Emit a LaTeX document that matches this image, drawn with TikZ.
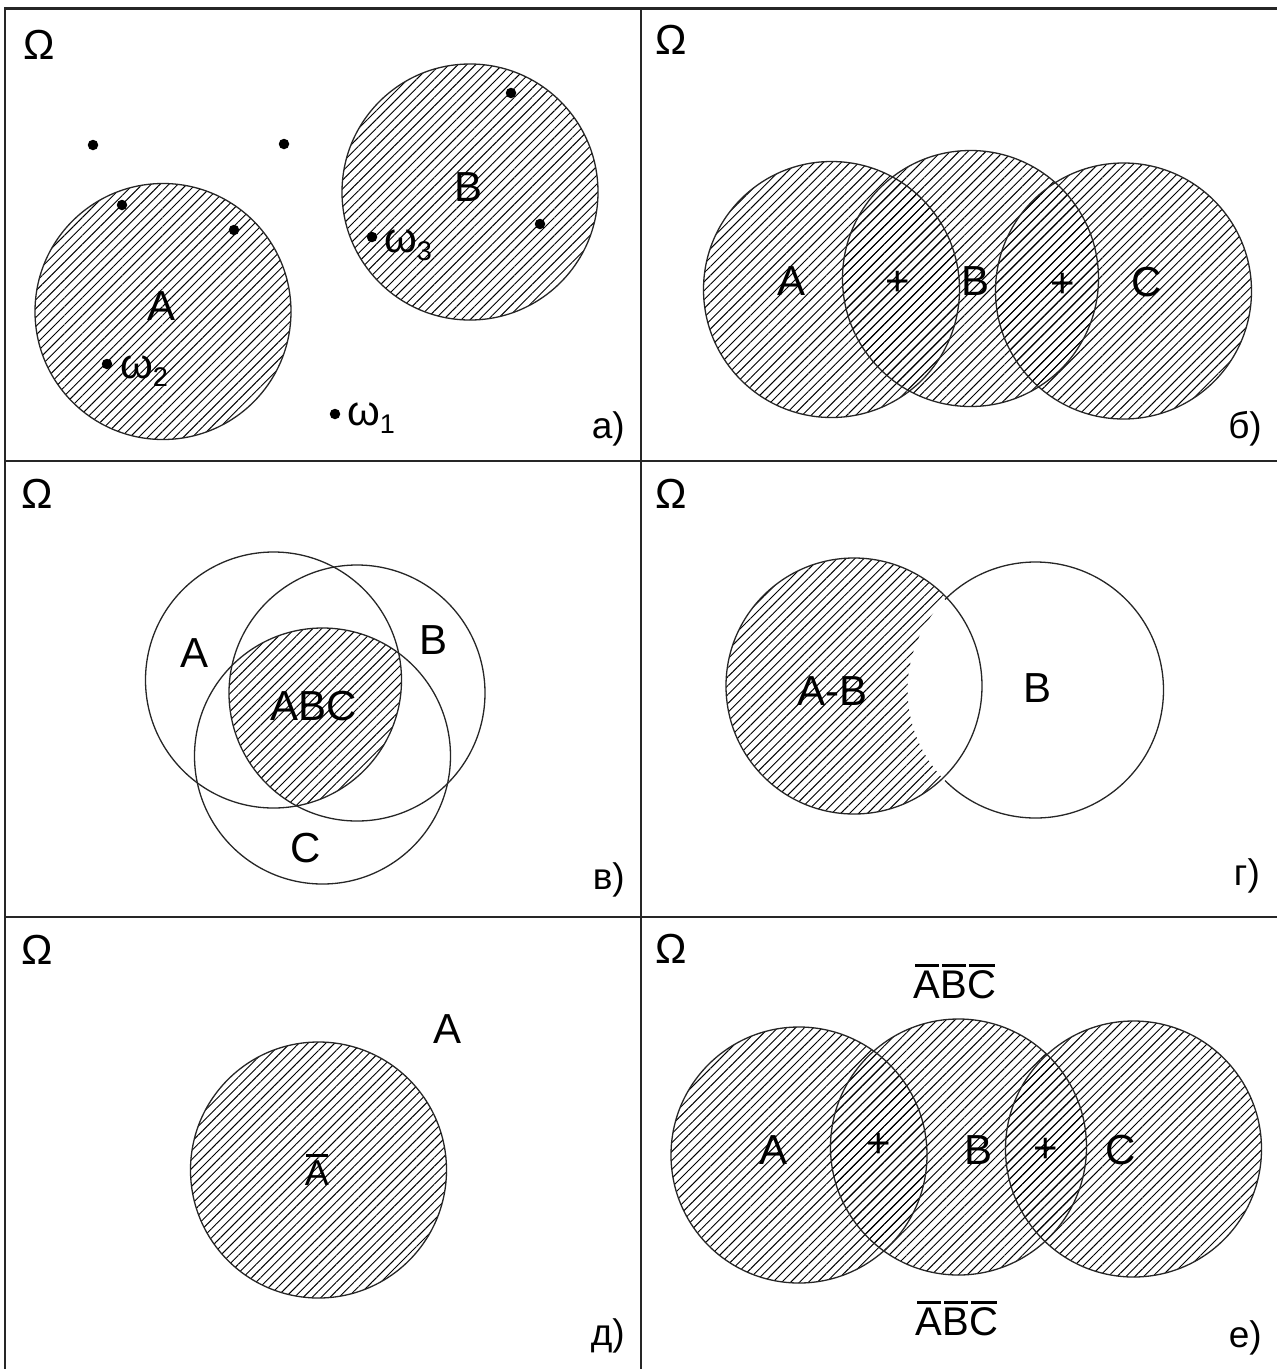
\documentclass[tikz,border=0pt]{standalone}
\usepackage{fontspec}
\setmainfont{Liberation Sans}
\usetikzlibrary{patterns.meta}
\newcommand\obar[1]{\leavevmode\setbox0=\hbox{#1}\rlap{\hbox to\wd0{\hss\raise\dimexpr\ht0+3.5pt\relax\hbox{\vrule width 0.9\wd0 height 3pt depth 0pt}\hss}}\box0}
\begin{document}
\begin{tikzpicture}[x=1pt,y=-1pt,
  hatch/.style={pattern={Lines[angle=45,distance=6.3pt,line width=0.95pt]}},
  ring/.style={draw,line width=1.3pt,black!85},
  frame/.style={line width=2pt,black!85},
  lbl/.style={font=\fontsize{42}{42}\selectfont,inner sep=0pt},
  om/.style={font=\fontsize{42}{42}\selectfont,inner sep=0pt},
  tag/.style={font=\fontsize{37}{37}\selectfont,inner sep=0pt,anchor=base east},
  wl/.style={font=\fontsize{42}{42}\selectfont,inner sep=0pt,anchor=base west},
  dot/.style={circle,fill,inner sep=0pt,minimum size=10.5pt}]
\useasboundingbox (0,0) rectangle (1277,1369);
\fill[white] (0,0) rectangle (1277,1369);
% frame
\draw[frame,line width=2.6pt] (4,8.5) -- (1277,8.5);
\draw[frame] (5,8) -- (5,1369);
\draw[frame] (641,8) -- (641,1369);
\draw[frame] (5,461) -- (1277,461);
\draw[frame] (5,917) -- (1277,917);
\newcommand\subs[1]{\raisebox{-8pt}{\fontsize{27}{27}\selectfont #1}}
% ---------- panel a
\fill[hatch] (163,311.5) circle[radius=128pt];
\draw[ring] (163,311.5) circle[radius=128pt];
\fill[hatch] (470,192) circle[radius=128pt];
\draw[ring] (470,192) circle[radius=128pt];
\node[om] (oa) at (39,45) {Ω};
\node[lbl] (la) at (162,306) {A};
\node[lbl] (lb) at (469,187) {B};
\node[dot] (d1) at (93,145) {};
\node[dot] (d2) at (284,144) {};
\node[dot] (d3) at (122,205) {};
\node[dot] (d4) at (234,230) {};
\node[dot] (d5) at (511,93) {};
\node[dot] (d6) at (540,224) {};
\node[dot] (d7) at (372,237) {};
\node[dot] (d8) at (107,364) {};
\node[dot] (d9) at (335,414) {};
\node[wl] (w3) at (384,252) {ω\subs{3}};
\node[wl] (w2) at (120,378) {ω\subs{2}};
\node[wl] (w1) at (347,425) {ω\subs{1}};
\node[tag] (ta) at (625,438) {а)};
% ---------- panel b
\fill[hatch] (831.5,289.5) circle[radius=128pt];
\fill[hatch] (970.5,278.5) circle[radius=128pt];
\fill[hatch] (1123.5,291) circle[radius=128pt];
\draw[ring] (831.5,289.5) circle[radius=128pt];
\draw[ring] (970.5,278.5) circle[radius=128pt];
\draw[ring] (1123.5,291) circle[radius=128pt];
\node[om] (ob) at (671,40) {Ω};
\node[lbl] (bA) at (791,281) {A};
\node[lbl] (bp1) at (898,283) {+};
\node[lbl] (bB) at (975,281) {B};
\node[lbl] (bp2) at (1063,285) {+};
\node[lbl] (bC) at (1147,282) {C};
\node[tag] (tb) at (1262,438) {б)};
% ---------- panel v
\begin{scope}
  \clip (273.5,680) circle[radius=128pt];
  \clip (357,693) circle[radius=128pt];
  \fill[hatch] (322.5,756) circle[radius=128pt];
\end{scope}
\draw[ring] (273.5,680) circle[radius=128pt];
\draw[ring] (357,693) circle[radius=128pt];
\draw[ring] (322.5,756) circle[radius=128pt];
\node[om] (ov) at (37,494) {Ω};
\node[lbl] (vA) at (195,653) {A};
\node[lbl] (vB) at (434,640) {B};
\node[lbl] (vABC) at (314,706) {ABC};
\node[lbl] (vC) at (306,848) {C};
\node[tag] (tv) at (625,889) {в)};
% ---------- panel g
\begin{scope}
  \clip (854,686) circle[radius=128pt];
  \fill[hatch,even odd rule] (854,686) circle[radius=128pt] (1035.5,690) circle[radius=128pt];
\end{scope}
\draw[ring] (854,686) circle[radius=128pt];
\draw[ring] (1035.5,690) ++(-135:128pt) arc[start angle=-135,end angle=135,radius=128pt];
\node[om] (og) at (671,494) {Ω};
\node[lbl] (gAB) at (832,691) {A-B};
\node[lbl] (gB) at (1037,688) {B};
\node[tag] (tg) at (1260,885) {г)};
% ---------- panel d
\fill[hatch] (318.5,1170) circle[radius=128pt];
\draw[ring] (318.5,1170) circle[radius=128pt];
\node[om] (od) at (37,950) {Ω};
\node[lbl] (dA) at (448,1029) {A};
\node[font=\fontsize{36}{36}\selectfont,inner sep=0pt,anchor=base] (dAbar) at (317,1185) {\obar{A}};
\node[tag] (td) at (625,1345) {д)};
% ---------- panel e
\fill[hatch] (799,1155) circle[radius=128pt];
\fill[hatch] (958.5,1147) circle[radius=128pt];
\fill[hatch] (1133.5,1149) circle[radius=128pt];
\draw[ring] (799,1155) circle[radius=128pt];
\draw[ring] (958.5,1147) circle[radius=128pt];
\draw[ring] (1133.5,1149) circle[radius=128pt];
\node[om] (oe) at (671,949) {Ω};
\node[lbl] (eA) at (773,1150) {A};
\node[lbl] (ep1) at (879,1145) {+};
\node[lbl] (eB) at (978,1150) {B};
\node[lbl] (ep2) at (1046,1150) {+};
\node[lbl] (eC) at (1121,1150) {C};
\node[font=\fontsize{40}{40}\selectfont,inner sep=0pt,anchor=base] (eTop) at (955,998) {\obar{A}\obar{B}\obar{C}};
\node[font=\fontsize{40}{40}\selectfont,inner sep=0pt,anchor=base] (eBot) at (957,1335) {\obar{A}\obar{B}\obar{C}};
\node[tag] (te) at (1262,1347) {е)};
\end{tikzpicture}
\end{document}
